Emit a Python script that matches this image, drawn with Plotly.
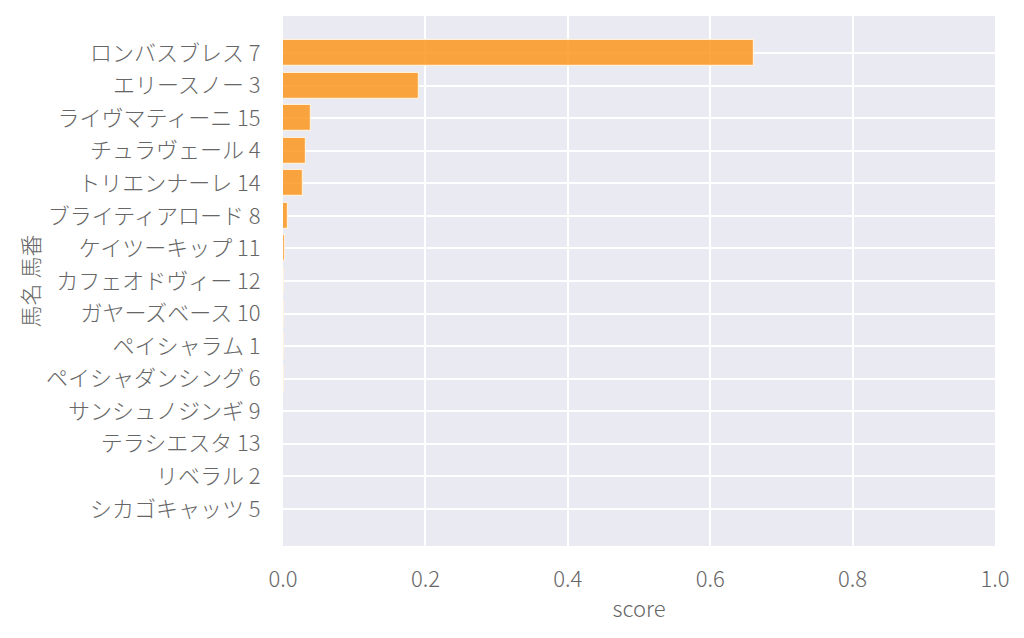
import plotly.graph_objects as go

horses = ["ロンバスブレス 7", "エリースノー 3", "ライヴマティーニ 15", "チュラヴェール 4",
          "トリエンナーレ 14", "ブライティアロード 8", "ケイツーキップ 11", "カフェオドヴィー 12",
          "ガヤーズベース 10", "ペイシャラム 1", "ペイシャダンシング 6", "サンシュノジンギ 9",
          "テラシエスタ 13", "リベラル 2", "シカゴキャッツ 5"]
scores = [0.661, 0.191, 0.039, 0.032, 0.028, 0.0065, 0.0025, 0.0018, 0.0017, 0.0010,
          0.0008, 0.0004, 0.0002, 0.0001, 0.0]
x_ticks = [0.0, 0.2, 0.4, 0.6, 0.8, 1.0]

FONT = "Noto Sans CJK JP Light, Noto Sans CJK JP DemiLight, Noto Sans CJK JP"
TXT = "#666666"

fig = go.Figure(go.Bar(
    x=scores, y=list(range(len(horses))), orientation="h", width=0.8,
    marker=dict(color="rgba(250,150,30,0.85)", line=dict(color="rgba(255,240,220,1)", width=1.2)),
))
fig.update_layout(
    width=1016, height=630,
    margin=dict(l=275, r=29, t=8, b=92),
    paper_bgcolor="white", plot_bgcolor="#EAEAF2",
    font=dict(family=FONT, size=22, color=TXT, weight=300),
    showlegend=False,
    bargap=0,
)
fig.update_xaxes(
    range=[0, 1], tickvals=x_ticks, ticktext=[f"{v:.1f}" for v in x_ticks],
    showgrid=True, gridcolor="white", gridwidth=1.6, zeroline=False, automargin=False,
    ticks="outside", ticklen=14, tickcolor="rgba(0,0,0,0)",
    title=dict(text="score", standoff=9, font=dict(size=22)),
)
fig.update_yaxes(
    range=[15.14, -1.14], tickvals=list(range(len(horses))), ticktext=horses,
    showgrid=True, gridcolor="white", gridwidth=1.6, zeroline=False, automargin=False,
    ticks="outside", ticklen=17, tickcolor="rgba(0,0,0,0)",
    title=dict(text="馬名 馬番", standoff=0, font=dict(size=22)),
)
fig.write_html("out.html")
